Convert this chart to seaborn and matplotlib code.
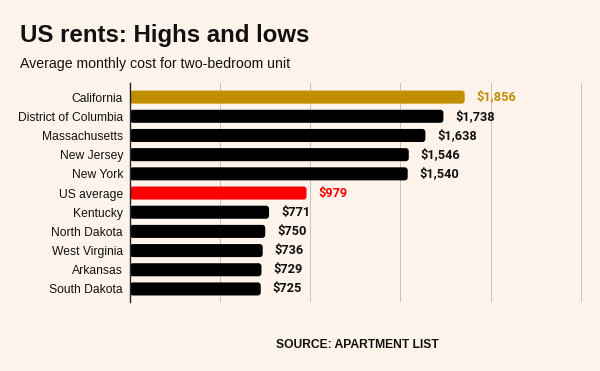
import matplotlib
matplotlib.use("Agg")
import matplotlib.pyplot as plt
import seaborn as sns
import pandas as pd
from matplotlib.patches import FancyBboxPatch

# Data
states = ["California", "District of Columbia", "Massachusetts", "New Jersey", "New York",
          "US average", "Kentucky", "North Dakota", "West Virginia", "Arkansas", "South Dakota"]
rents = [1856, 1738, 1638, 1546, 1540, 979, 771, 750, 736, 729, 725]
bar_colors = ["#c18e00", "#000000", "#000000", "#000000", "#000000",
              "#ff0000", "#000000", "#000000", "#000000", "#000000", "#000000"]
label_colors = ["#c18e00", "#111111", "#111111", "#111111", "#111111",
                "#ff0000", "#111111", "#111111", "#111111", "#111111", "#111111"]

bg = "#fef4eb"
df = pd.DataFrame({"state": states, "rent": rents})

sns.set_style("white")
plt.rcParams["font.family"] = ["Liberation Sans", "DejaVu Sans"]

fig = plt.figure(figsize=(6, 3.71), dpi=100, facecolor=bg)
ax = fig.add_axes([0.2167, 0.186, 0.7543, 0.590])
ax.set_facecolor(bg)
ax.set_axisbelow(True)

sns.barplot(data=df, x="rent", y="state", hue="state", palette=bar_colors,
            saturation=1, legend=False, width=0.68, ax=ax)

ax.set_xlim(0, 2510)
ax.set_ylim(10.68, -0.73)

# give the bars slightly rounded ends
x_per_px = 2510 / (0.7543 * 600)
y_per_px = 11.41 / (0.590 * 371)
for p in list(ax.patches):
    bb = p.get_bbox()
    rb = FancyBboxPatch((bb.x0, bb.y0), bb.width, bb.height,
                        boxstyle="round,pad=0,rounding_size=%f" % (3 * x_per_px),
                        mutation_aspect=y_per_px / x_per_px,
                        facecolor=p.get_facecolor(), edgecolor="none", zorder=2)
    p.remove()
    ax.add_patch(rb)

ax.set_xticks([500, 1000, 1500, 2000, 2500])
ax.xaxis.grid(True, color="#cbc3ba", linewidth=0.72, antialiased=False)
ax.tick_params(axis="x", length=0, labelbottom=False)
ax.tick_params(axis="y", length=0, pad=5, labelsize=8.7, labelcolor="#111111")
ax.set_xlabel("")
ax.set_ylabel("")
for s in ["top", "right", "bottom"]:
    ax.spines[s].set_visible(False)
ax.spines["left"].set_color("#222222")
ax.spines["left"].set_linewidth(1)
ax.spines["left"].set_zorder(3)

for i, (v, c) in enumerate(zip(rents, label_colors)):
    ax.text(v + 66, i, "${:,}".format(v), va="center", ha="left",
            fontsize=9.2, fontweight="bold", color=c, family=["Roboto", "DejaVu Sans"])

fig.text(0.033, 0.887, "US rents: Highs and lows", fontsize=17.3, fontweight="bold",
         color="#111111", va="baseline")
fig.text(0.033, 0.818, "Average monthly cost for two-bedroom unit", fontsize=10.2,
         color="#111111", va="baseline")
fig.text(0.595, 0.063, "SOURCE: APARTMENT LIST", fontsize=8.7, fontweight="bold",
         color="#111111", ha="center", va="baseline")

fig.savefig("out.png", dpi=100, facecolor=bg)
